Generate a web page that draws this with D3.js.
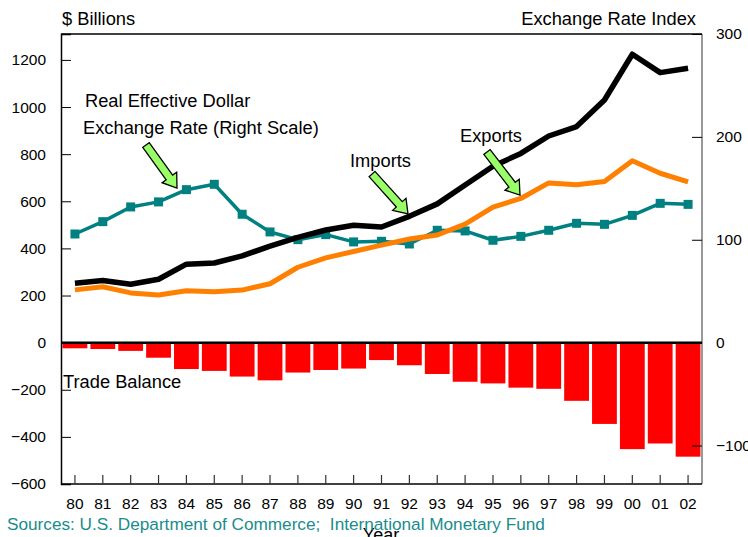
<!DOCTYPE html>
<html><head><meta charset="utf-8">
<script src="https://cdn.jsdelivr.net/npm/d3@7"></script>
<style>body{margin:0;background:#fff;} svg{display:block;font-family:"Liberation Sans",Arial,sans-serif;}</style>
</head><body>
<svg id="c" width="748" height="537"></svg>
<script>
const years = ["80","81","82","83","84","85","86","87","88","89","90","91","92","93","94","95","96","97","98","99","00","01","02"];
const imports = [252,264,248,269,333,338,368,410,447,478,498,491,536,589,669,749,803,877,917,1030,1224,1146,1165];
const exports_ = [224,237,211,202,220,216,223,250,320,360,387,414,440,457,503,575,612,678,670,684,772,719,682];
const tradeBalance = [-24,-27,-35,-64,-112,-120,-144,-160,-127,-116,-110,-74,-96,-133,-166,-173,-191,-196,-247,-345,-452,-428,-484];
const reer = [105.6,117.6,131.9,136.8,148.7,153.9,124.8,107.6,100.1,105,97.9,98.5,95.9,109.2,108.6,99.5,103.3,109.2,116,115,123.7,135.4,134.4];
const leftTicks = [-600,-400,-200,0,200,400,600,800,1000,1200];
const rightTicks = [-100,0,100,200,300];

const svg = d3.select("#c");
const L = 61, R = 702, T = 34, B = 484;
const x = d3.scaleBand().domain(years).range([L, R]).paddingInner(0.11).paddingOuter(0.055);
const yL = d3.scaleLinear().domain([-600, 1310]).range([B, T]);
const yR = d3.scaleLinear().domain([-600 * 300 / 1310, 300]).range([B, T]);
const cx = d => x(d) + x.bandwidth() / 2;

// bars
svg.append("g").selectAll("rect").data(tradeBalance).join("rect")
  .attr("x", (d, i) => x(years[i]))
  .attr("y", yL(0))
  .attr("width", x.bandwidth())
  .attr("height", d => yL(d) - yL(0))
  .attr("fill", "#ff0000");

// frame
svg.append("line").attr("x1", L).attr("x2", R).attr("y1", T).attr("y2", T).attr("stroke", "#000").attr("stroke-width", 1.5);
svg.append("line").attr("x1", R).attr("x2", R).attr("y1", T).attr("y2", B).attr("stroke", "#777").attr("stroke-width", 1.5);

// left axis
const gl = svg.append("g").attr("transform", `translate(${L},0)`)
  .call(d3.axisRight(yL).tickValues(leftTicks).tickSize(10).tickFormat(d3.format("d")));
gl.select(".domain").attr("stroke", "#000").attr("stroke-width", 1.5);
gl.selectAll(".tick line").attr("stroke", "#000").attr("stroke-width", 1);
gl.selectAll(".tick text").attr("x", -15).attr("text-anchor", "end").attr("font-size", "15.5px").attr("fill", "#000").attr("font-family", "Liberation Sans, Arial, sans-serif");

// right axis
const gr = svg.append("g").attr("transform", `translate(${R},0)`)
  .call(d3.axisLeft(yR).tickValues(rightTicks).tickSize(10).tickFormat(d3.format("d")));
gr.select(".domain").remove();
gr.selectAll(".tick line").attr("stroke", "#000").attr("stroke-width", 1);
gr.selectAll(".tick text").attr("x", 14).attr("text-anchor", "start").attr("font-size", "15.5px").attr("fill", "#000").attr("font-family", "Liberation Sans, Arial, sans-serif");

// bottom axis
const gb = svg.append("g").attr("transform", `translate(0,${B})`)
  .call(d3.axisTop(x).tickSize(9));
gb.select(".domain").attr("stroke", "#000").attr("stroke-width", 1.5).attr("d", `M${L},0H${R}`);
gb.selectAll(".tick line").attr("stroke", "#333").attr("stroke-width", 1.2);
gb.selectAll(".tick text").attr("y", 25).attr("font-size", "15.5px").attr("fill", "#000").attr("font-family", "Liberation Sans, Arial, sans-serif");

// zero line
svg.append("line").attr("x1", L).attr("x2", R).attr("y1", yL(0)).attr("y2", yL(0)).attr("stroke", "#000").attr("stroke-width", 2.5);

// lines
const lineL = d3.line().x((d, i) => cx(years[i])).y(d => yL(d));
const lineR = d3.line().x((d, i) => cx(years[i])).y(d => yR(d));
svg.append("path").attr("d", lineR(reer)).attr("fill", "none").attr("stroke", "#008080").attr("stroke-width", 3.5).attr("stroke-linejoin", "round");
svg.append("g").selectAll("rect").data(reer).join("rect")
  .attr("x", (d, i) => cx(years[i]) - 4.5).attr("y", d => yR(d) - 4.5)
  .attr("width", 9).attr("height", 9).attr("fill", "#008080");
svg.append("path").attr("d", lineL(exports_)).attr("fill", "none").attr("stroke", "#ff8000").attr("stroke-width", 5).attr("stroke-linejoin", "round");
svg.append("path").attr("d", lineL(imports)).attr("fill", "none").attr("stroke", "#000").attr("stroke-width", 5.5).attr("stroke-linejoin", "round");

// arrows
function arrow(x1, y1, x2, y2) {
  const dx = x2 - x1, dy = y2 - y1, len = Math.hypot(dx, dy);
  const ux = dx / len, uy = dy / len, px = -uy, py = ux;
  const sw = 4, hw = 9, hl = 13;
  const bx = x2 - ux * hl, by = y2 - uy * hl;
  const pts = [
    [x1 + px * sw, y1 + py * sw], [bx + px * sw, by + py * sw], [bx + px * hw, by + py * hw],
    [x2, y2], [bx - px * hw, by - py * hw], [bx - px * sw, by - py * sw], [x1 - px * sw, y1 - py * sw]
  ];
  svg.append("polygon").attr("points", pts.map(p => p.join(",")).join(" "))
    .attr("fill", "#99ff66").attr("stroke", "#000").attr("stroke-width", 1.3).attr("stroke-linejoin", "miter");
}
arrow(146, 145, 177, 188);
arrow(372, 174, 408, 214);
arrow(487, 152, 520, 195);

// texts
const txt = (s, xx, yy, opts = {}) => svg.append("text").attr("x", xx).attr("y", yy).text(s)
  .attr("font-size", opts.size || "18.3px").attr("fill", opts.fill || "#000").attr("text-anchor", opts.anchor || "start");
txt("$ Billions", 62, 25);
txt("Exchange Rate Index", 696, 25, {anchor: "end"});
txt("Real Effective Dollar", 85, 107);
txt("Exchange Rate (Right Scale)", 83, 134);
txt("Imports", 350, 167);
txt("Exports", 460, 142);
txt("Trade Balance", 63, 388);
txt("Year", 381, 541, {anchor: "middle", size: "18px"});
txt("Sources: U.S. Department of Commerce;\u00a0 International Monetary Fund", 7, 530, {fill: "#1a8c8c", size: "17.2px"});
</script>
</body></html>
